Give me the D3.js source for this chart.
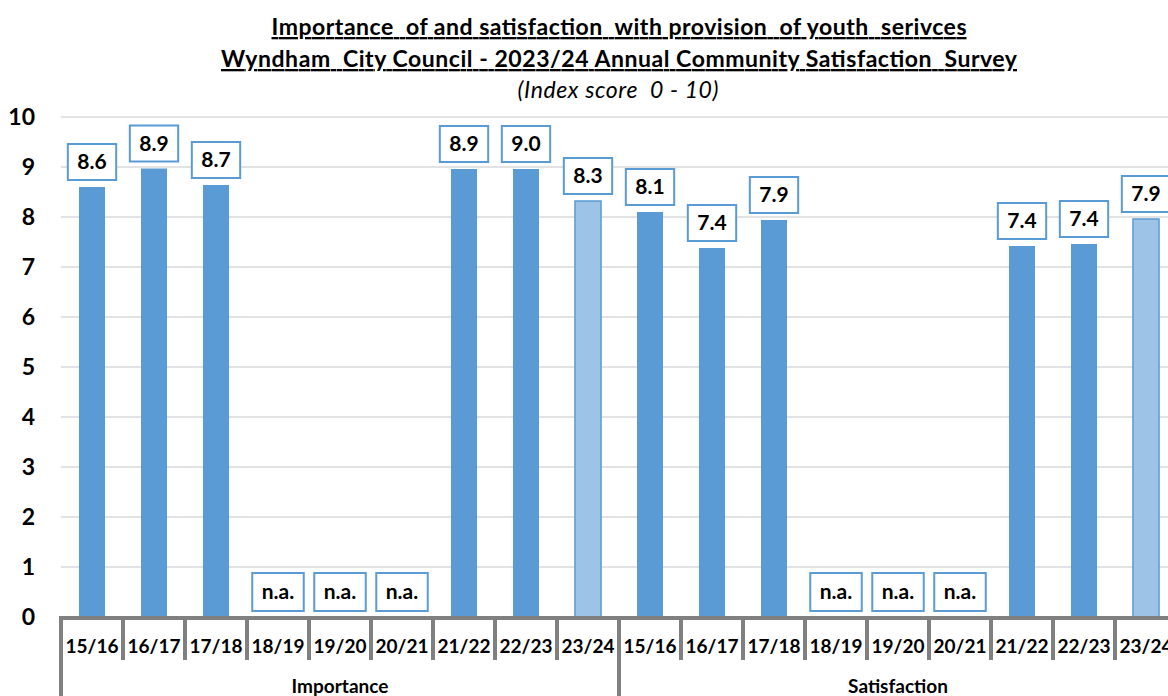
<!DOCTYPE html>
<html>
<head>
<meta charset="utf-8">
<script src="https://cdn.jsdelivr.net/npm/d3@7"></script>
<style>
  html, body { margin: 0; padding: 0; background: #fff; }
  svg { display: block; }
  text { font-family: Lato, "Open Sans", sans-serif; white-space: pre; }
</style>
</head>
<body>
<svg id="chart" width="1168" height="696"></svg>
<script>
const titleLines = [
  "Importance  of and satisfaction  with provision  of youth  serivces",
  "Wyndham  City Council - 2023/24 Annual Community Satisfaction  Survey"
];
const subtitle = "(Index score  0 - 10)";
const groups = ["Importance", "Satisfaction"];
const years = ["15/16", "16/17", "17/18", "18/19", "19/20", "20/21", "21/22", "22/23", "23/24"];
const importanceValues = [8.6, 8.97, 8.64, null, null, null, 8.96, 8.96, 8.32];
const importanceLabels = ["8.6", "8.9", "8.7", "n.a.", "n.a.", "n.a.", "8.9", "9.0", "8.3"];
const satisfactionValues = [8.1, 7.38, 7.94, null, null, null, 7.42, 7.46, 7.96];
const satisfactionLabels = ["8.1", "7.4", "7.9", "n.a.", "n.a.", "n.a.", "7.4", "7.4", "7.9"];
const yTicks = [0, 1, 2, 3, 4, 5, 6, 7, 8, 9, 10];

const data = [];
groups.forEach((g, gi) => {
  const vals = gi === 0 ? importanceValues : satisfactionValues;
  const labs = gi === 0 ? importanceLabels : satisfactionLabels;
  years.forEach((y, i) => {
    data.push({ key: g + "|" + y, group: g, year: y, value: vals[i], label: labs[i], latest: i === years.length - 1 });
  });
});

const svg = d3.select("#chart");
const left = 61, step = 62;
const right = left + step * data.length;
const y0 = 617, y10 = 117;

const x = d3.scaleBand().domain(data.map(d => d.key)).range([left, right]).paddingInner(0.58).paddingOuter(0.29);
const xc = d3.scaleBand().domain(data.map(d => d.key)).range([left, right]).padding(0);
const xg = d3.scaleBand().domain(groups).range([left, right]).padding(0);
const y = d3.scaleLinear().domain([0, 10]).range([y0, y10]);

// Title
const title = svg.append("g");
const titleWidths = [695, 796];
titleLines.forEach((t, i) => {
  title.append("text").attr("x", 619).attr("y", 35 + i * 32)
    .attr("text-anchor", "middle").attr("font-size", 23).attr("font-weight", 700)
    .attr("textLength", titleWidths[i]).attr("lengthAdjust", "spacing")
    .style("text-decoration", "underline").text(t);
});
title.append("text").attr("x", 618).attr("y", 98)
  .attr("text-anchor", "middle").attr("font-size", 23).attr("font-style", "italic")
  .attr("textLength", 201).attr("lengthAdjust", "spacing").text(subtitle);

// Gridlines
svg.append("g").selectAll("line").data(yTicks.filter(t => t > 0)).join("line")
  .attr("x1", left).attr("x2", right).attr("y1", d => y(d)).attr("y2", d => y(d))
  .attr("stroke", "#c6c6c6").attr("stroke-width", 1);

// Y axis
const yAxis = svg.append("g").attr("transform", `translate(${left},0)`)
  .call(d3.axisLeft(y).tickValues(yTicks).tickSize(0).tickPadding(26).tickFormat(d3.format("d")));
yAxis.select(".domain").remove();
yAxis.selectAll("text").attr("font-size", 23).attr("font-weight", 700).attr("fill", "#000")
  .style("font-family", "Lato, sans-serif");

// Bars
svg.append("g").selectAll("rect").data(data.filter(d => d.value != null)).join("rect")
  .attr("x", d => x(d.key)).attr("width", x.bandwidth())
  .attr("y", d => y(d.value)).attr("height", d => y0 - y(d.value))
  .attr("fill", d => d.latest ? "#9dc3e6" : "#5b9bd5")
  .attr("stroke", d => d.latest ? "#5b9bd5" : "none").attr("stroke-width", 1.5);

// Labels in boxes
const lab = svg.append("g").selectAll("g").data(data).join("g")
  .attr("transform", d => `translate(${xc(d.key) + xc.bandwidth() / 2},${y(d.value == null ? 0 : d.value) - (d.value == null ? 6 : 7)})`);
lab.append("rect").attr("fill", "#fff").attr("stroke", "#5b9bd5").attr("stroke-width", 2);
lab.append("text").attr("text-anchor", "middle").attr("y", -12)
  .attr("font-size", 21).attr("font-weight", 700).text(d => d.label);
lab.each(function(d) {
  const g = d3.select(this);
  const w = g.select("text").node().getComputedTextLength();
  const bw = w + 19, bh = d.value == null ? 38 : 36;
  g.select("rect").attr("x", -bw / 2).attr("y", -bh).attr("width", bw).attr("height", bh);
  g.select("text").attr("y", d.value == null ? -12 : -11);
});

// X axis: baseline and dividers
const axisG = svg.append("g");
axisG.append("line").attr("x1", left - 2).attr("x2", right + 2).attr("y1", y0 + 1).attr("y2", y0 + 1)
  .attr("stroke", "#808080").attr("stroke-width", 4);
const catBounds = data.map(d => xc(d.key));
axisG.selectAll("line.cat").data(catBounds).join("line").attr("class", "cat")
  .attr("x1", d => d).attr("x2", d => d).attr("y1", y0).attr("y2", 660)
  .attr("stroke", "#808080").attr("stroke-width", 4);
axisG.selectAll("line.grp").data(groups.map(g => xg(g)).concat([right])).join("line").attr("class", "grp")
  .attr("x1", d => d).attr("x2", d => d).attr("y1", y0).attr("y2", 696)
  .attr("stroke", "#808080").attr("stroke-width", 4);

// Category labels
svg.append("g").selectAll("text").data(data).join("text")
  .attr("x", d => xc(d.key) + xc.bandwidth() / 2).attr("y", 653)
  .attr("text-anchor", "middle").attr("font-size", 19).attr("font-weight", 700).text(d => d.year);

// Group labels
svg.append("g").selectAll("text").data(groups).join("text")
  .attr("x", d => xg(d) + xg.bandwidth() / 2).attr("y", 693)
  .attr("text-anchor", "middle").attr("font-size", 19).attr("font-weight", 700).text(d => d);
</script>
</body>
</html>
